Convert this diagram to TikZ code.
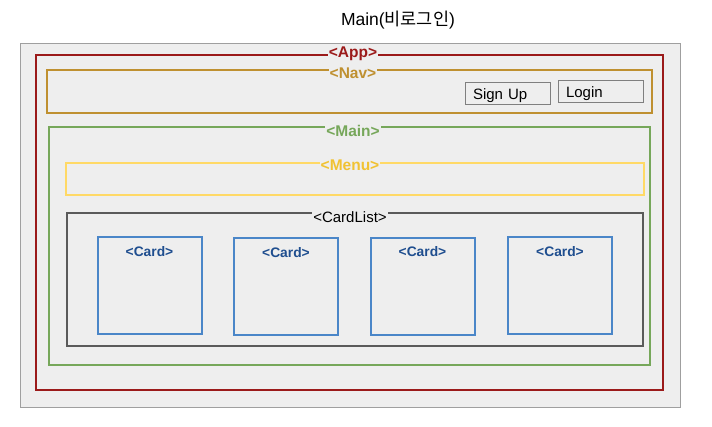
\documentclass[tikz,border=0pt]{standalone}
\usepackage{fontspec}
\setmainfont{Liberation Sans}
\newfontfamily\krfont{Noto Sans CJK KR}
\begin{document}
\begin{tikzpicture}[x=1pt,y=-1pt,
  frame/.style={draw=#1, line width=2pt, fill=none, rectangle, inner sep=0pt},
  tag/.style={fill=bgc, inner sep=1pt, font=\bfseries\fontsize{15.5}{17}\selectfont, text=#1},
  btn/.style={draw=btngray, line width=1pt, rectangle, inner xsep=8pt, inner ysep=0pt,
     minimum height=22pt, text width=69pt, align=left, text height=13pt, text depth=0.6pt,
     font=\fontsize{15}{17}\selectfont},
  cardbox/.style={draw=cardblue, line width=2pt, rectangle, inner sep=0pt, minimum width=104pt, minimum height=97pt,
     label={[anchor=north, yshift=-6.5pt, text=cardtxt, font=\bfseries\fontsize{13.8}{16}\selectfont]north:{<Card>}}}]
\definecolor{bgc}{HTML}{EEEEEE}
\definecolor{btngray}{HTML}{7F7F7F}
\definecolor{appred}{HTML}{9B1A1A}
\definecolor{navgold}{HTML}{BF9030}
\definecolor{maingreen}{HTML}{76A75A}
\definecolor{menuyel}{HTML}{FFD966}
\definecolor{menutxt}{HTML}{F1C232}
\definecolor{listgray}{HTML}{5A5A5A}
\definecolor{cardblue}{HTML}{4A86C8}
\definecolor{cardtxt}{HTML}{1F4E8F}
\useasboundingbox (0,0) rectangle (712,426);
\fill[white] (0,0) rectangle (712,426);
% title
\node[font=\fontsize{17.5}{20}\selectfont] (title) at (398,20) {Main({\krfont 비로그인})};
% outer canvas
\node[draw=gray!75, fill=bgc, line width=0.8pt, rectangle, inner sep=0pt, minimum width=660pt, minimum height=364pt] (canvas) at (350,225) {};
% App
\node[frame=appred, minimum width=627pt, minimum height=335pt] (app) at (349.5,222.5) {};
\node[tag=appred] (applbl) at (353,54) {<App>};
% Nav
\node[frame=navgold, minimum width=605pt, minimum height=43pt] (nav) at (349.5,91.5) {};
\node[tag=navgold] (navlbl) at (353,73.5) {<Nav>};
\node[btn] (signup) at (507.5,93) {Sign Up};
\node[btn] (login) at (600.5,91) {Login};
% Main
\node[frame=maingreen, minimum width=601pt, minimum height=238pt] (main) at (349.5,246) {};
\node[tag=maingreen] (mainlbl) at (353,130.5) {<Main>};
% Menu
\node[frame=menuyel, minimum width=578pt, minimum height=32pt] (menu) at (355,179) {};
\node[tag=menutxt] (menulbl) at (350,165) {<Menu>};
% CardList
\node[frame=listgray, minimum width=576pt, minimum height=133pt] (cardlist) at (355,279.5) {};
\node[fill=bgc, inner sep=1pt, font=\fontsize{15}{17}\selectfont] (cardlistlbl) at (350,217) {<CardList>};
% Cards
\node[cardbox] (card1) at (149.5,285.5) {};
\node[cardbox] (card2) at (286,286.5) {};
\node[cardbox] (card3) at (422.5,286) {};
\node[cardbox] (card4) at (560,285.5) {};
\end{tikzpicture}
\end{document}
